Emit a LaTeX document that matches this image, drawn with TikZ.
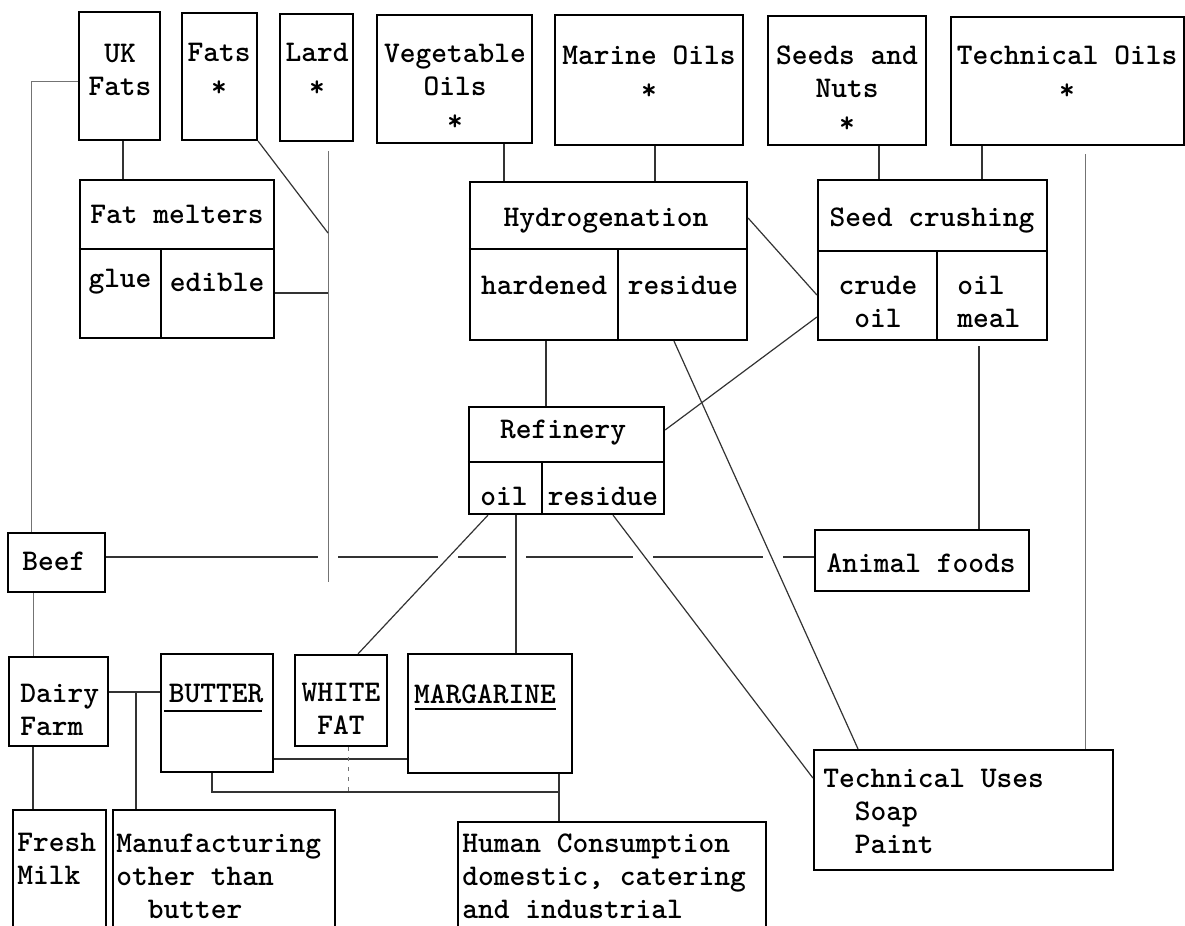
\documentclass[tikz,border=0pt]{standalone}
\usetikzlibrary{fit,calc}
\newcommand\starmark{\raisebox{-0.15ex}{*}}
\begin{document}
\begin{tikzpicture}[x=0.5pt,y=-0.5pt,
  box/.style={draw=black, line width=1.1pt, inner sep=0pt},
  lbl/.style={font=\fontsize{15}{16.5}\selectfont\ttfamily\bfseries, inner sep=0pt, align=center},
  lbll/.style={lbl, align=left, anchor=west},
  conn/.style={draw=black!80, line width=0.6pt},
  faint/.style={draw=black!55, line width=0.5pt},
  divider/.style={draw=black, line width=1.1pt},
  uline/.style={draw=black, line width=1pt},
]
\useasboundingbox (0,0) rectangle (1185,926);
\clip (0,0) rectangle (1185,926);
\fill[white] (0,0) rectangle (1185,926);

% ---------- boxes ----------
\node[box, fit={(79,12)(160,140)}] (ukf) {};
\node[box, fit={(182,13)(257,140)}] (fats) {};
\node[box, fit={(280,14)(353,141)}] (lard) {};
\node[box, fit={(377,15)(532,143)}] (veg) {};
\node[box, fit={(555,15)(743,145)}] (mar) {};
\node[box, fit={(768,16)(926,145)}] (seeds) {};
\node[box, fit={(951,17)(1184,145)}] (tech) {};
\node[box, fit={(80,180)(274,338)}] (fm) {};
\node[box, fit={(470,182)(747,340)}] (hyd) {};
\node[box, fit={(818,180)(1047,340)}] (sc) {};
\node[box, fit={(469,407)(664,514)}] (ref) {};
\node[box, fit={(8,533)(105,592)}] (beef) {};
\node[box, fit={(815,530)(1029,591)}] (anim) {};
\node[box, fit={(9,657)(108,746)}] (dairy) {};
\node[box, fit={(161,654)(273,772)}] (butter) {};
\node[box, fit={(295,655)(387,746)}] (wf) {};
\node[box, fit={(408,654)(572,773)}] (marg) {};
\node[box, fit={(13,810)(106,960)}] (fresh) {};
\node[box, fit={(113,810)(335,960)}] (manu) {};
\node[box, fit={(458,822)(766,960)}] (human) {};
\node[box, fit={(814,750)(1113,870)}] (techu) {};

% dividers
\draw[divider] (fm.west |- 0,249) -- (fm.east |- 0,249);
\draw[divider] (fm.south -| 161,0) -- (161,249);
\draw[divider] (hyd.west |- 0,249) -- (hyd.east |- 0,249);
\draw[divider] (hyd.south -| 618,0) -- (618,249);
\draw[divider] (sc.west |- 0,251) -- (sc.east |- 0,251);
\draw[divider] (sc.south -| 937,0) -- (937,251);
\draw[divider] (ref.west |- 0,462) -- (ref.east |- 0,462);
\draw[divider] (ref.south -| 542,0) -- (542,462);

% ---------- texts ----------
\node[lbl] (ukft) at (120,70) {UK\\Fats};
\node[lbl] (fatst) at (219,70) {Fats\\\starmark};
\node[lbl] (lardt) at (317,70) {Lard\\\starmark};
\node[lbl] (vegt) at (455,87) {Vegetable\\Oils\\\starmark};
\node[lbl] (mart) at (649,73) {Marine Oils\\\starmark};
\node[lbl] (seedt) at (847,89) {Seeds and\\Nuts\\\starmark};
\node[lbl] (techt) at (1067,73) {Technical Oils\\\starmark};
\node[lbl] (fmt) at (177,214) {Fat melters};
\node[lbl] (gluet) at (120,282) {glue};
\node[lbl] (ediblet) at (217,282) {edible};
\node[lbl] (hydt) at (606,221) {Hydrogenation};
\node[lbl] (hardt) at (544,285) {hardened};
\node[lbl] (hresit) at (683,285) {residue};
\node[lbl] (sct) at (932,221) {Seed crushing};
\node[lbl] (crudet) at (878,302) {crude\\oil};
\node[lbll] (mealt) at (957,302) {oil\\meal};
\node[lbl] (reft) at (563,433) {Refinery};
\node[lbl] (oilt) at (504,496) {oil};
\node[lbl] (rresit) at (603,496) {residue};
\node[lbl] (beeft) at (54,561) {Beef};
\node[lbl] (animt) at (921,563) {Animal foods};
\node[lbll] (dairyt) at (20,710) {Dairy\\Farm};
\node[lbl] (buttert) at (216,693) {BUTTER};
\node[lbl] (wft) at (341,709) {WHITE\\FAT};
\node[lbl] (margt) at (485,694) {MARGARINE};
\node[lbll] (fresht) at (17,859) {Fresh\\Milk};
\node[lbll] (manut) at (116,876) {Manufacturing\\other than\\\phantom{xx}butter};
\node[lbll] (humant) at (462,876) {Human Consumption\\domestic, catering\\and industrial};
\node[lbll] (techut) at (823,811) {Technical Uses\\\phantom{xx}Soap\\\phantom{xx}Paint};
\draw[uline] (164,711) -- (262,711);
\draw[uline] (415,709) -- (556,709);

% ---------- connectors ----------
% Beef -- Animal foods, with gaps at crossings
\draw[conn] (beef.east |- 0,557) -- (anim.west |- 0,557);
\foreach \cx in {328,448,516,643,773}
  \fill[white] (\cx-10,553) rectangle (\cx+10,561);

\coordinate (jUK) at (31,81);
\draw[faint] (ukf.west |- jUK) -- (jUK) -- (jUK |- beef.north);
\draw[conn] (ukf.south -| 123,0) -- (fm.north -| 123,0);
\coordinate (jL) at (328,233);
\draw[faint] ($(lard.south -| jL)+(0,9)$) -- (328,582);
\draw[conn] (fats.south east) -- (jL);
\draw[conn] (fm.east |- 0,293) -- (jL |- 0,293);

\draw[conn] (veg.south -| 504,0) -- (hyd.north -| 504,0);
\draw[conn] (mar.south -| 655,0) -- (hyd.north -| 655,0);
\draw[conn] (seeds.south -| 879,0) -- (sc.north -| 879,0);
\draw[conn] (tech.south -| 982,0) -- (sc.north -| 982,0);
\draw[faint] ($(tech.south -| 1085,0)+(0,8)$) -- (techu.north -| 1085,0);

\draw[conn] (hyd.east |- 0,218) -- (sc.west |- 0,295);
\draw[conn] (sc.west |- 0,317) -- (ref.east |- 0,430);
\draw[conn] (hyd.south -| 546,0) -- (ref.north -| 546,0);
\draw[conn] (hyd.south -| 674,0) -- (techu.north -| 858,0);
\draw[conn] ($(sc.south -| 979,0)+(0,5)$) -- (anim.north -| 979,0);

\draw[conn] (ref.south -| 488,0) -- (wf.north -| 358,0);
\draw[conn] (ref.south -| 516,0) -- (marg.north -| 516,0);
\draw[conn] (ref.south -| 613,0) -- (techu.west |- 0,778);

\draw[faint] (beef.south -| 33,0) -- (dairy.north -| 33,0);
\draw[conn] (dairy.south -| 33,0) -- (fresh.north -| 33,0);
\draw[conn] (dairy.east |- 0,692) -- (butter.west |- 0,692);
\coordinate (jD) at (136,692);
\draw[conn] (jD) -- (jD |- manu.north);
\draw[conn] (278,759 -| butter.east) -- (marg.west |- 0,759);
\coordinate (jH) at (559,792);
\draw[conn] (butter.south -| 212,0) -- (212,792) -- (jH);
\draw[conn] (marg.south -| jH) -- (jH |- human.north);
\draw[faint, dash pattern=on 2pt off 3pt] (wf.south -| 348,0) -- (348,792);
\end{tikzpicture}
\end{document}
